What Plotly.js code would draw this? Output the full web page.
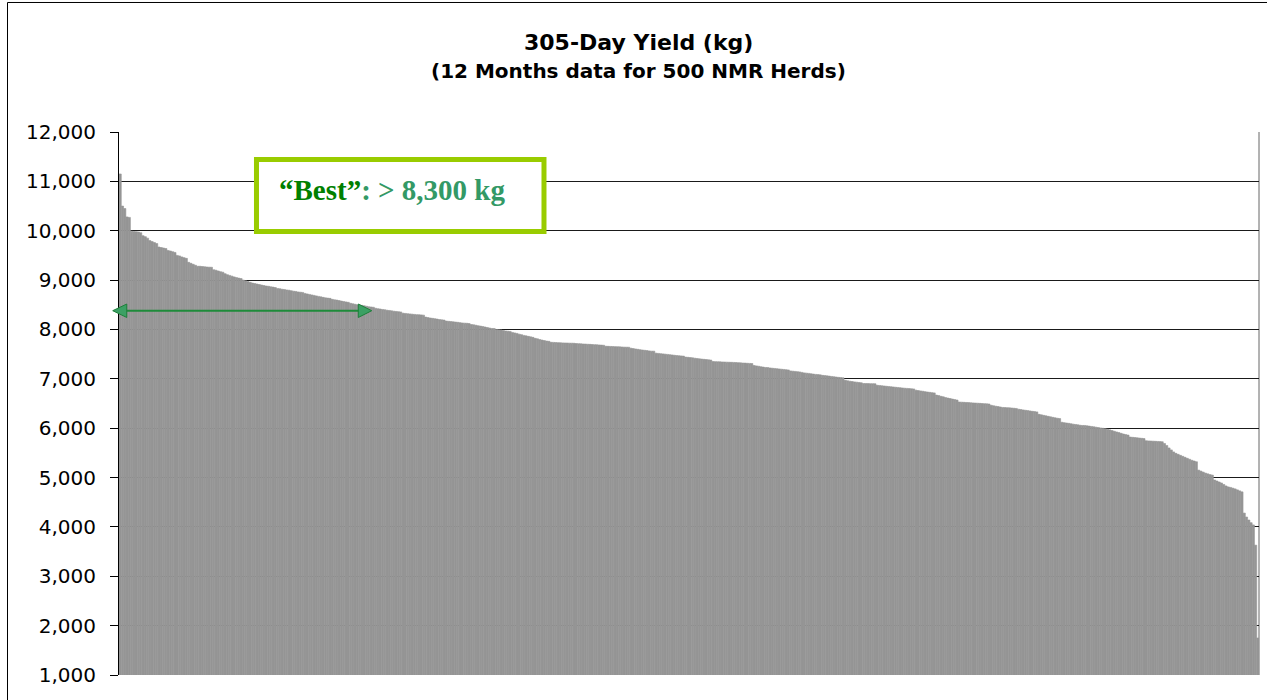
<!DOCTYPE html>
<html>
<head>
<meta charset="utf-8">
<script src="https://cdn.plot.ly/plotly-3.0.1.min.js"></script>
<style>html,body{margin:0;padding:0;background:#fff;}#chart{width:1267px;height:700px;}</style>
</head>
<body>
<div id="chart"></div>
<script>
// 305-day yield (kg) of 500 NMR herds, ranked highest to lowest
const yieldKg = [
  11150, 10500, 10450, 10280, 10270, 9990, 9985, 9980, 9975, 9960,
  9900, 9880, 9850, 9800, 9780, 9760, 9740, 9670, 9660, 9650,
  9640, 9600, 9590, 9575, 9560, 9500, 9490, 9470, 9455, 9440,
  9360, 9340, 9320, 9300, 9280, 9280, 9275, 9270, 9265, 9262,
  9260, 9210, 9200, 9185, 9170, 9160, 9130, 9110, 9095, 9080,
  9065, 9050, 9040, 9030, 9000, 8985, 8970, 8955, 8940, 8930,
  8920, 8910, 8900, 8890, 8880, 8875, 8865, 8858, 8850, 8830,
  8825, 8815, 8810, 8800, 8795, 8785, 8775, 8770, 8760, 8755,
  8750, 8730, 8720, 8710, 8700, 8690, 8680, 8670, 8660, 8650,
  8640, 8635, 8630, 8610, 8600, 8595, 8585, 8575, 8565, 8558,
  8550, 8530, 8520, 8510, 8500, 8495, 8488, 8480, 8470, 8460,
  8455, 8450, 8430, 8420, 8415, 8405, 8400, 8390, 8385, 8378,
  8370, 8365, 8360, 8355, 8330, 8325, 8320, 8315, 8310, 8305,
  8300, 8298, 8295, 8290, 8250, 8240, 8232, 8225, 8218, 8210,
  8200, 8195, 8190, 8170, 8165, 8160, 8155, 8150, 8145, 8138,
  8132, 8128, 8125, 8120, 8100, 8095, 8085, 8075, 8068, 8060,
  8050, 8040, 8030, 8020, 8020, 8000, 7995, 7990, 7980, 7970,
  7965, 7960, 7940, 7930, 7920, 7905, 7895, 7880, 7870, 7860,
  7850, 7840, 7820, 7810, 7795, 7785, 7775, 7765, 7760, 7740,
  7738, 7735, 7732, 7730, 7728, 7726, 7725, 7723, 7722, 7720,
  7715, 7712, 7710, 7706, 7704, 7700, 7698, 7695, 7692, 7690,
  7686, 7683, 7680, 7660, 7658, 7656, 7654, 7652, 7650, 7648,
  7645, 7642, 7641, 7640, 7620, 7612, 7605, 7598, 7590, 7584,
  7578, 7572, 7566, 7560, 7560, 7520, 7515, 7510, 7505, 7500,
  7495, 7490, 7484, 7478, 7472, 7468, 7464, 7460, 7440, 7436,
  7430, 7425, 7418, 7412, 7405, 7400, 7395, 7390, 7385, 7380,
  7350, 7348, 7346, 7344, 7342, 7340, 7338, 7336, 7334, 7332,
  7330, 7327, 7324, 7320, 7318, 7315, 7312, 7310, 7270, 7262,
  7255, 7245, 7238, 7230, 7228, 7220, 7215, 7210, 7205, 7200,
  7195, 7190, 7185, 7180, 7160, 7155, 7150, 7145, 7140, 7130,
  7120, 7115, 7110, 7102, 7096, 7090, 7085, 7080, 7070, 7065,
  7060, 7055, 7048, 7042, 7036, 7030, 7025, 7020, 6970, 6960,
  6952, 6945, 6938, 6932, 6926, 6920, 6905, 6904, 6903, 6902,
  6901, 6900, 6870, 6865, 6860, 6855, 6850, 6845, 6840, 6835,
  6830, 6825, 6820, 6815, 6810, 6806, 6802, 6798, 6795, 6770,
  6762, 6755, 6748, 6740, 6733, 6726, 6720, 6715, 6670, 6660,
  6645, 6635, 6620, 6610, 6600, 6590, 6580, 6570, 6530, 6527,
  6524, 6521, 6518, 6515, 6512, 6509, 6506, 6503, 6500, 6497,
  6494, 6490, 6465, 6455, 6445, 6438, 6430, 6420, 6418, 6415,
  6412, 6408, 6404, 6400, 6385, 6378, 6370, 6363, 6356, 6350,
  6342, 6336, 6330, 6280, 6270, 6260, 6250, 6240, 6230, 6220,
  6210, 6202, 6195, 6120, 6112, 6105, 6098, 6090, 6082, 6075,
  6068, 6060, 6055, 6055, 6048, 6042, 6035, 6028, 6020, 6012,
  6005, 5998, 5990, 5980, 5966, 5952, 5938, 5924, 5910, 5896,
  5882, 5870, 5860, 5820, 5815, 5810, 5805, 5800, 5795, 5790,
  5745, 5742, 5740, 5737, 5734, 5731, 5728, 5725, 5690, 5650,
  5600, 5560, 5520, 5490, 5470, 5450, 5430, 5410, 5390, 5370,
  5350, 5335, 5320, 5150, 5130, 5110, 5090, 5075, 5060, 5050,
  4950, 4930, 4910, 4890, 4860, 4830, 4810, 4800, 4785, 4770,
  4750, 4730, 4710, 4280, 4200, 4140, 4085, 4040, 3630, 1750
];
const herdRank = yieldKg.map((v, i) => i + 1);

const titleText = "305-Day Yield (kg)";
const subtitleText = "(12 Months data for 500 NMR Herds)";
const bestLabel = "\u201CBest\u201D";
const bestRest = ": > 8,300 kg";
const yTickVals = [1000, 2000, 3000, 4000, 5000, 6000, 7000, 8000, 9000, 10000, 11000, 12000];

const trace = {
  type: 'bar',
  x: herdRank,
  y: yieldKg,
  marker: {color: '#969696', line: {width: 0.6, color: '#969696'}},
  hoverinfo: 'y'
};

const layout = {
  width: 1267,
  height: 700,
  autosize: false,
  margin: {l: 119, r: 8, t: 132, b: 25, pad: 0},
  paper_bgcolor: '#ffffff',
  plot_bgcolor: '#ffffff',
  showlegend: false,
  bargap: 0,
  font: {family: 'DejaVu Sans, Arial, sans-serif', color: '#000'},
  xaxis: {
    range: [0.5, 500.5],
    showticklabels: false, showgrid: false, zeroline: false, ticks: '', showline: false
  },
  yaxis: {
    range: [1000, 12000],
    tickvals: yTickVals,
    tickformat: ',d',
    showgrid: true, gridcolor: '#1a1a1a', gridwidth: 1,
    zeroline: false,
    showline: true, linecolor: '#000', linewidth: 1,
    ticks: 'outside', ticklen: 8, tickcolor: '#000', tickwidth: 1,
    ticklabelstandoff: 10,
    tickfont: {family: 'DejaVu Sans, Arial, sans-serif', size: 20, color: '#000'}
  },
  shapes: [
    // right border of plot area
    {type: 'line', xref: 'paper', yref: 'paper', x0: 1, x1: 1, y0: 0, y1: 1,
     line: {color: '#666666', width: 1}, layer: 'below'},
    // outer chart border
    {type: 'rect', xref: 'paper', yref: 'paper', x0: -0.0978, x1: 1.0096, y0: -0.0516, y1: 1.2385,
     line: {color: '#000', width: 1}, fillcolor: 'rgba(0,0,0,0)', layer: 'above'},
    // callout box
    {type: 'rect', xref: 'paper', yref: 'paper', x0: 0.1206, x1: 0.3728, y0: 0.8168, y1: 0.9494,
     line: {color: '#99CC00', width: 5}, fillcolor: '#ffffff', layer: 'above'},
    // double arrow shaft
    {type: 'line', xref: 'paper', yref: 'paper', x0: 0.0060, x1: 0.2105, y0: 0.6709, y1: 0.6709,
     line: {color: '#1E8B3A', width: 2}, layer: 'above'},
    // left arrowhead
    {type: 'path', xref: 'paper', yref: 'paper',
     path: 'M -0.0055 0.6709 L 0.0068 0.6832 L 0.0068 0.6584 Z',
     line: {color: '#1E7F3A', width: 1}, fillcolor: '#3CA064', layer: 'above'},
    // right arrowhead
    {type: 'path', xref: 'paper', yref: 'paper',
     path: 'M 0.2217 0.6709 L 0.2099 0.6832 L 0.2099 0.6584 Z',
     line: {color: '#1E7F3A', width: 1}, fillcolor: '#3CA064', layer: 'above'}
  ],
  annotations: [
    {xref: 'paper', yref: 'paper', x: 0.4557, y: 1.1657, xanchor: 'center', yanchor: 'middle',
     showarrow: false, text: '<b>' + titleText + '</b>',
     font: {family: 'DejaVu Sans, Arial, sans-serif', size: 22, color: '#000'}},
    {xref: 'paper', yref: 'paper', x: 0.456, y: 1.1123, xanchor: 'center', yanchor: 'middle',
     showarrow: false, text: '<b>' + subtitleText + '</b>',
     font: {family: 'DejaVu Sans, Arial, sans-serif', size: 20, color: '#000'}},
    {xref: 'paper', yref: 'paper', x: 0.2399, y: 0.8932, xanchor: 'center', yanchor: 'middle',
     showarrow: false,
     text: '<b><span style="color:#008000">' + bestLabel + '</span><span style="color:#339966">' + bestRest + '</span></b>',
     font: {family: 'Liberation Serif, Times New Roman, serif', size: 29, color: '#339966'}}
  ]
};

Plotly.newPlot('chart', [trace], layout, {displayModeBar: false, staticPlot: true});
</script>
</body>
</html>
